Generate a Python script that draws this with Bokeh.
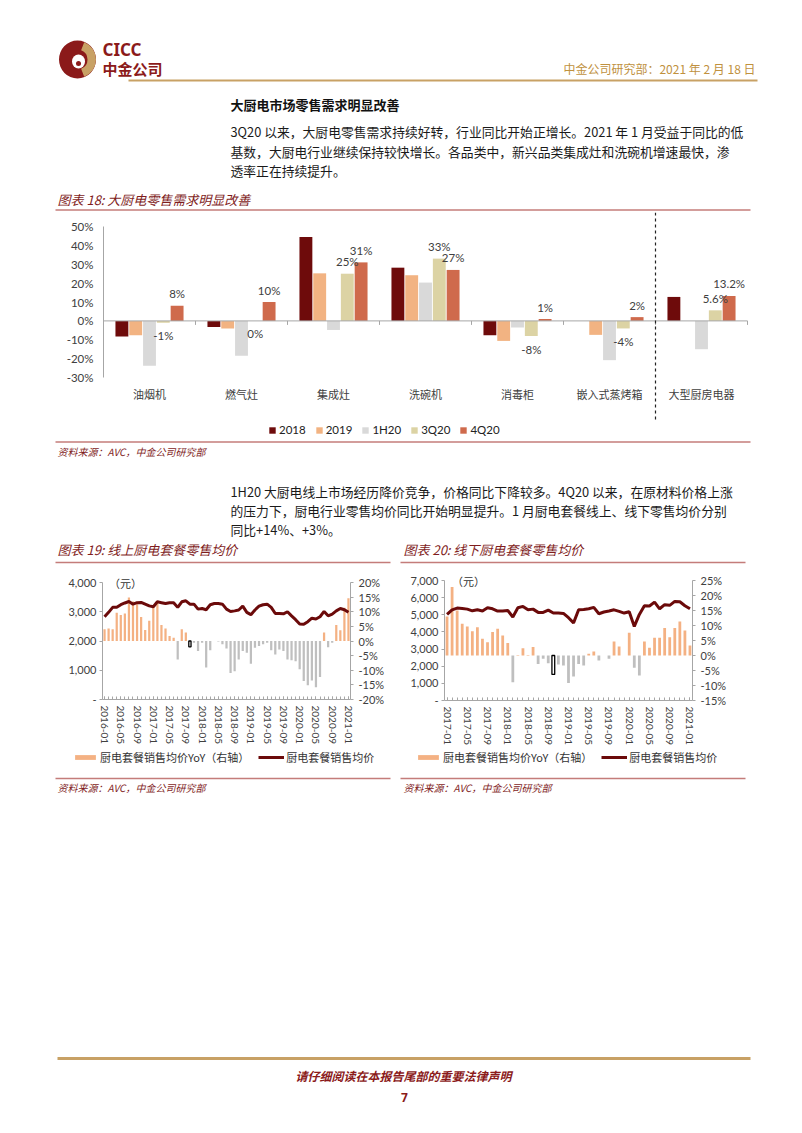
import numpy as np
import pandas as pd
from bokeh.plotting import figure
from bokeh.models import (Range1d, LinearAxis, FixedTicker, PrintfTickFormatter,
                          NumeralTickFormatter, Legend, LegendItem, ColumnDataSource, Label)
from bokeh.layouts import column, row
from bokeh.transform import dodge
from bokeh.core.properties import value
from bokeh.embed import file_html
from bokeh.resources import INLINE

NAN = float("nan")

# ---------------- data: chart 18 ----------------
cats18 = ["油烟机", "燃气灶", "集成灶", "洗碗机", "消毒柜", "嵌入式蒸烤箱", "大型厨房电器"]
series18 = ["2018", "2019", "1H20", "3Q20", "4Q20"]
v2018 = [-8.3, -3.2, 44.5, 28.2, -7.6, NAN, 12.7]
v2019 = [-7.6, -4.0, 25.2, 24.2, -10.6, -7.4, NAN]
v1h20 = [-23.8, -18.5, -4.8, 20.3, -3.5, -20.8, -15.0]
v3q20 = [-1.0, 0.0, 25.0, 33.0, -8.0, -4.0, 5.6]
v4q20 = [8.0, 10.0, 31.0, 27.0, 1.0, 2.0, 13.2]
lbl3q20 = ["-1%", "0%", "25%", "33%", "-8%", "-4%", "5.6%"]
lbl4q20 = ["8%", "10%", "31%", "27%", "1%", "2%", "13.2%"]
yticks18 = [-30, -20, -10, 0, 10, 20, 30, 40, 50]

# ---------------- data: chart 19 (online) ----------------
months19 = [str(m) for m in pd.period_range("2016-01", "2021-01", freq="M")]
online_price = [2830, 2980, 3150, 3150, 3240, 3300, 3350, 3260, 3310, 3320,
                3260, 3200, 3170, 3340, 3310, 3280, 3310, 3310, 3150, 3340,
                3375, 3260, 3260, 3090, 3110, 3070, 3240, 3280, 3280, 3260,
                3090, 3010, 3030, 3060, 3190, 2980, 2900, 3060, 3190, 3240,
                3260, 3150, 2940, 2940, 2930, 3000, 2860, 2730, 2580, 2570,
                2660, 2780, 2750, 2830, 3010, 2860, 2920, 3030, 3110, 3070, 2980]
online_yoy = [4.0, 4.3, 4.0, 9.7, 8.9, 9.4, 14.9, 13.5, 12.6, 8.2,
              3.8, 6.9, 11.4, 13.7, 5.5, 4.3, 1.7, 1.1, -6.3, 4.0,
              2.9, -2.0, -0.6, -3.4, -0.6, -9.1, -3.2, 0.0, -0.2, -1.1,
              -2.6, -10.9, -10.3, -6.3, -3.4, -4.0, -7.8, -2.3, -1.7, -1.1,
              -0.6, -3.2, -4.6, -2.9, -3.4, -6.3, -6.6, -6.9, -9.7, -13.7,
              -15.1, -13.5, -15.8, -12.3, 2.9, -2.1, -0.6, 5.5, 3.7, 11.4, 14.6]
online_box = "2017-10"
lticks19 = [0, 1000, 2000, 3000, 4000]
rticks19 = [-20, -15, -10, -5, 0, 5, 10, 15, 20]

# ---------------- data: chart 20 (offline) ----------------
months20 = [str(m) for m in pd.period_range("2017-01", "2021-01", freq="M")]
offline_price = [5020, 5290, 5390, 5370, 5330, 5230, 5290, 5220, 5410, 5350,
                 5220, 5220, 5250, 4870, 5410, 5490, 5290, 5330, 5140, 5140,
                 5270, 5100, 5100, 5080, 4830, 4530, 5290, 5310, 5350, 5430,
                 5060, 5160, 5220, 5290, 5200, 5100, 5180, 4320, 5020, 5530,
                 5510, 5740, 5350, 5590, 5550, 5780, 5760, 5530, 5350]
offline_yoy = [13.0, 22.8, 15.0, 10.6, 9.7, 8.1, 9.4, 5.6, 4.4, 7.8,
               8.9, 6.7, 4.2, -8.9, 0.2, 2.4, 0.2, 2.8, -2.8, -1.1,
               -2.6, -6.3, -3.0, -3.3, -9.2, -7.0, -2.8, -3.3, 0.6, 1.3,
               -1.7, 0.0, -1.1, 4.7, 3.0, 0.0, 7.6, -4.1, -6.7, 4.7,
               2.6, 5.9, 5.9, 9.2, 6.1, 9.2, 11.3, 8.3, 3.3]
offline_box = "2018-10"
lticks20 = [0, 1000, 2000, 3000, 4000, 5000, 6000, 7000]
rticks20 = [-15, -10, -5, 0, 5, 10, 15, 20, 25]

legend_yoy = "厨电套餐销售均价YoY（右轴）"
legend_price = "厨电套餐销售均价"

# ---------------- styles ----------------
CJK = "Noto Sans CJK SC"
NUM = "Lato, Noto Sans CJK SC"
DARKRED = "#7F1D1D"
RULE = "#C47C7A"
GOLD = "#C8A165"
AXIS = "#A6A6A6"
LABEL = "#404040"
COL18 = ["#6E0B0B", "#F2B382", "#D9D9D9", "#DCD3A4", "#CF6A4C"]
ORANGE = "#F4B183"
GRAY = "#BFBFBF"
LINE = "#6B0A0A"
PAGE_W = 800


def base(width, height, x_range, y_range):
    # every figure uses its whole area as frame; axes are placed with fixed_location
    p = figure(width=width, height=height, toolbar_location=None, output_backend="svg",
               x_range=x_range, y_range=y_range,
               outline_line_color=None, background_fill_color="white", border_fill_color="white",
               min_border_left=0, min_border_right=0, min_border_top=0, min_border_bottom=0)
    p.xgrid.visible = False
    p.ygrid.visible = False
    return p


def text_fig(top, height):
    p = base(PAGE_W, height, Range1d(0, PAGE_W), Range1d(top + height, top))
    p.xaxis.visible = False
    p.yaxis.visible = False
    return p


def put(p, x, y, s, size, color="#1a1a1a", font=CJK, align="left", style="normal"):
    p.text(x=[x], y=[y], text=[s], text_font=value(font), text_font_size=size,
           text_color=color, text_align=align, text_baseline="middle", text_font_style=style)


def hline(p, x0, x1, y, color, width):
    p.segment(x0=[x0], x1=[x1], y0=[y], y1=[y], line_color=color, line_width=width)


def style_axis(ax, standoff, size="11px", tick_out=3):
    ax.axis_line_color = AXIS
    ax.major_tick_out = tick_out
    ax.major_tick_in = 0
    ax.minor_tick_out = 0
    ax.minor_tick_in = 0
    ax.major_tick_line_color = AXIS
    ax.major_label_standoff = standoff
    ax.major_label_text_font = NUM
    ax.major_label_text_font_size = size
    ax.major_label_text_color = LABEL


# ================= Figure A : header, intro, chart 18 title =================
A_TOP, A_H = 0, 212
fa = text_fig(A_TOP, A_H)
fa.ellipse(x=[77], y=[59], width=[37], height=[38], fill_color="#8B1A1A", line_color=None)
fa.annular_wedge(x=[77], y=[59], inner_radius=[10], outer_radius=[18.5],
                 start_angle=[-1.2], end_angle=[1.2], fill_color="#C8A165", line_color=None)
fa.ellipse(x=[78], y=[61], width=[13], height=[14], fill_color="white", line_color=None)
fa.ellipse(x=[78], y=[63], width=[5], height=[5], fill_color="#8B1A1A", line_color=None)
put(fa, 102, 49, "CICC", "17px", "#8B1A1A", "Noto Sans", style="bold")
put(fa, 102, 68, "中金公司", "15px", "#8B1A1A", CJK, style="bold")
put(fa, 755, 68, "中金公司研究部：2021 年 2 月 18 日", "12px", "#C0913E", CJK, align="right")
hline(fa, 128, 757, 80, GOLD, 2)
put(fa, 230, 104, "大厨电市场零售需求明显改善", "13px", "#111111", CJK, style="bold")
put(fa, 230, 131, "3Q20 以来，大厨电零售需求持续好转，行业同比开始正增长。2021 年 1 月受益于同比的低", "12.8px")
put(fa, 230, 151, "基数，大厨电行业继续保持较快增长。各品类中，新兴品类集成灶和洗碗机增速最快，渗", "12.8px")
put(fa, 230, 170, "透率正在持续提升。", "12.8px")
put(fa, 57, 199, "图表 18: 大厨电零售需求明显改善", "13px", DARKRED, CJK, style="italic")
hline(fa, 55, 750, 209.5, RULE, 1.5)

# ================= Figure B : chart 18 =================
T18, B18 = 212, 440
F18_L, F18_R = 103, 747          # page x of category area
Z18 = 320.4                      # page y of 0 %
PPU18 = 1.8875                   # px per 1 %
n18 = len(cats18)
ppx18 = (F18_R - F18_L) / n18    # px per category
x_lo = -F18_L / ppx18
x_hi = n18 + (PAGE_W - F18_R) / ppx18
y_lo = -(B18 - Z18) / PPU18
y_hi = (Z18 - T18) / PPU18
p18 = base(PAGE_W, B18 - T18, Range1d(x_lo, x_hi), Range1d(y_lo, y_hi))

xc18 = [i + 0.5 for i in range(n18)]
y3 = [v + 12 / PPU18 if v > 0 else v - 13 / PPU18 for v in v3q20]
y4 = [v + 12 / PPU18 if v > 0 else v - 13 / PPU18 for v in v4q20]
src18 = ColumnDataSource(dict(x=xc18,
                              s0=np.array(v2018, dtype=float), s1=np.array(v2019, dtype=float),
                              s2=np.array(v1h20, dtype=float), s3=np.array(v3q20, dtype=float),
                              s4=np.array(v4q20, dtype=float),
                              l3=lbl3q20, l4=lbl4q20, y3=y3, y4=y4))
offs = [-0.3, -0.15, 0.0, 0.15, 0.3]
bars18 = []
for k, name in enumerate(series18):
    r = p18.vbar(x=dodge("x", offs[k]), top="s%d" % k, bottom=0,
                 width=0.14, fill_color=COL18[k], line_color=None, source=src18)
    bars18.append(r)
# zero line with category boundary ticks
p18.segment(x0=[0], x1=[n18], y0=[0], y1=[0], line_color=AXIS, line_width=1)
bnd = list(range(1, n18 + 1))
p18.segment(x0=bnd, x1=bnd, y0=[0] * n18, y1=[-4 / PPU18] * n18, line_color=AXIS, line_width=1)
# dashed divider before the last category
p18.segment(x0=[n18 - 1], x1=[n18 - 1], y0=[y_hi], y1=[(Z18 - 421) / PPU18],
            line_color="#222222", line_width=1.2, line_dash="3 3")
p18.text(x=dodge("x", 0.15), y="y3", text="l3", source=src18,
         text_font=value(NUM), text_font_size="11.5px", text_color=LABEL,
         text_align="center", text_baseline="middle")
p18.text(x=dodge("x", 0.3), y="y4", text="l4", source=src18,
         text_font=value(NUM), text_font_size="11.5px", text_color=LABEL,
         text_align="center", text_baseline="middle")

ya = p18.yaxis[0]
ya.fixed_location = 0
ya.ticker = FixedTicker(ticks=yticks18)
ya.formatter = PrintfTickFormatter(format="%d%%")
ya.bounds = (min(yticks18), max(yticks18))
style_axis(ya, 10, "11.5px", tick_out=0)

xa = p18.xaxis[0]
xa.fixed_location = (Z18 - 382) / PPU18
xa.ticker = FixedTicker(ticks=xc18)
xa.major_label_overrides = {x: c for x, c in zip(xc18, cats18)}
xa.axis_line_alpha = 0
xa.major_tick_in = 0
xa.major_tick_out = 0
xa.minor_tick_in = 0
xa.minor_tick_out = 0
xa.major_label_standoff = 3
xa.major_label_text_font = CJK
xa.major_label_text_font_size = "11px"
xa.major_label_text_color = LABEL

leg18 = Legend(items=[LegendItem(label=n, renderers=[r]) for n, r in zip(series18, bars18)],
               orientation="horizontal", location=(268, 4),
               glyph_width=8, glyph_height=8, label_height=12, label_standoff=3, spacing=9,
               padding=0, margin=0, background_fill_alpha=0, border_line_alpha=0,
               label_text_font=NUM, label_text_font_size="11.5px", label_text_color="#222222")
p18.add_layout(leg18)

# ================= Figure C : source 18, paragraph, titles 19/20 =================
C_TOP, C_H = 440, 128
fc = text_fig(C_TOP, C_H)
hline(fc, 55, 750, 441.5, RULE, 1.5)
put(fc, 57, 451, "资料来源：AVC，中金公司研究部", "10px", DARKRED, CJK, style="italic")
put(fc, 230, 491, "1H20 大厨电线上市场经历降价竞争，价格同比下降较多。4Q20 以来，在原材料价格上涨", "12.8px")
put(fc, 230, 510, "的压力下，厨电行业零售均价同比开始明显提升。1 月厨电套餐线上、线下零售均价分别", "12.8px")
put(fc, 230, 529, "同比+14%、+3%。", "12.8px")
put(fc, 57, 549, "图表 19: 线上厨电套餐零售均价", "13px", DARKRED, CJK, style="italic")
hline(fc, 55, 390, 562, RULE, 1.5)
put(fc, 403, 549, "图表 20: 线下厨电套餐零售均价", "13px", DARKRED, CJK, style="italic")
hline(fc, 400, 745, 562, RULE, 1.5)

# ================= Figures D/E : monthly charts =================
ROW_TOP, ROW_BOT = 568, 748
FRAME_W = 248


def month_chart(months, price, yoy, box_month, lticks, rticks,
                fig_x0, fig_w, frame_x0, top_y, zero_y, yuan_px):
    n = len(months)
    ppm = FRAME_W / n
    x0 = frame_x0 - fig_x0
    left_max = max(lticks)
    r_min, r_max = min(rticks), max(rticks)
    ppl = (zero_y - top_y) / left_max
    ppr = (zero_y - top_y) / (r_max - r_min)
    p = base(fig_w, ROW_BOT - ROW_TOP,
             Range1d(-x0 / ppm, n + (fig_w - x0 - FRAME_W) / ppm),
             Range1d(-(ROW_BOT - zero_y) / ppl, left_max + (top_y - ROW_TOP) / ppl))
    p.extra_y_ranges = {"pct": Range1d(r_min - (ROW_BOT - zero_y) / ppr,
                                       r_max + (top_y - ROW_TOP) / ppr)}

    xs = [i + 0.5 for i in range(n)]
    fc_, lc_, la_ = [], [], []
    for m, v in zip(months, yoy):
        if m == box_month:
            fc_.append("#FFFFFF"); lc_.append("#000000"); la_.append(1.0)
        else:
            c = ORANGE if v > 0 else GRAY
            fc_.append(c); lc_.append(c); la_.append(0.0)
    src = ColumnDataSource(dict(x=xs, m=months, price=price, yoy=yoy, fc=fc_, lc=lc_, la=la_))
    p.vbar(x="x", top="yoy", bottom=0, width=0.55, y_range_name="pct",
           fill_color="fc", line_color="lc", line_alpha="la", line_width=1.3, source=src)
    p.line(x="x", y="price", line_color=LINE, line_width=3, source=src)

    ya = p.yaxis[0]
    ya.fixed_location = 0
    ya.ticker = FixedTicker(ticks=lticks)
    ya.formatter = NumeralTickFormatter(format="0,0")
    ya.major_label_overrides = {0: "-"}
    ya.bounds = (0, left_max)
    style_axis(ya, 3)

    ra = LinearAxis(y_range_name="pct", ticker=FixedTicker(ticks=rticks),
                    formatter=PrintfTickFormatter(format="%d%%"), bounds=(r_min, r_max),
                    fixed_location=n)
    style_axis(ra, 5)
    p.add_layout(ra, "right")

    xa = p.xaxis[0]
    xa.fixed_location = 0
    xa.bounds = (0, n)
    lab_x = [xs[i] for i in range(0, n, 4)]
    xa.ticker = FixedTicker(ticks=lab_x, minor_ticks=xs)
    xa.major_label_overrides = {xs[i]: months[i] for i in range(0, n, 4)}
    xa.axis_line_color = AXIS
    xa.major_tick_in = 3
    xa.major_tick_out = 0
    xa.minor_tick_in = 3
    xa.minor_tick_out = 0
    xa.major_tick_line_color = AXIS
    xa.minor_tick_line_color = AXIS
    xa.major_label_orientation = "vertical"
    xa.major_label_standoff = 6
    xa.major_label_text_font = NUM
    xa.major_label_text_font_size = "10px"
    xa.major_label_text_color = LABEL

    p.add_layout(Label(x=(yuan_px - frame_x0) / ppm, y=left_max, text="（元）", text_font=CJK,
                       text_font_size="11px", text_color="#333333",
                       text_align="center", text_baseline="middle"))
    return p


p19 = month_chart(months19, online_price, online_yoy, online_box, lticks19, rticks19,
                  fig_x0=0, fig_w=396, frame_x0=102, top_y=582, zero_y=699, yuan_px=125)
p20 = month_chart(months20, offline_price, offline_yoy, offline_box, lticks20, rticks20,
                  fig_x0=396, fig_w=PAGE_W - 396, frame_x0=444, top_y=580, zero_y=700, yuan_px=468)

# ================= Figure F : legends 19/20, sources, footer =================
F_TOP, F_H = 748, 382
ff = text_fig(F_TOP, F_H)
# legend keys: renderers with a single undrawn (NaN) point, only used for the legend swatches
key_bar = ff.vbar(x=[NAN], top=[NAN], width=1, fill_color=ORANGE, line_color=None)
key_line = ff.line(x=[NAN, NAN], y=[NAN, NAN], line_color=LINE, line_width=3)
for lx in (72, 415):
    leg = Legend(items=[LegendItem(label=legend_yoy, renderers=[key_bar]),
                        LegendItem(label=legend_price, renderers=[key_line])],
                 orientation="horizontal", location=(lx, F_TOP + F_H - 765),
                 glyph_width=26, glyph_height=6, label_height=13, label_standoff=2, spacing=9,
                 padding=0, margin=0, background_fill_alpha=0, border_line_alpha=0,
                 label_text_font=CJK, label_text_font_size="11px", label_text_color="#333333")
    ff.add_layout(leg)
hline(ff, 55, 390, 778, RULE, 1.5)
hline(ff, 400, 745, 778, RULE, 1.5)
put(ff, 57, 787, "资料来源：AVC，中金公司研究部", "10px", DARKRED, CJK, style="italic")
put(ff, 403, 787, "资料来源：AVC，中金公司研究部", "10px", DARKRED, CJK, style="italic")
hline(ff, 57, 750, 1058, GOLD, 3)
put(ff, 403, 1075, "请仔细阅读在本报告尾部的重要法律声明", "12px", "#8B1A1A", CJK,
    align="center", style="bold italic")
put(ff, 404, 1097, "7", "12px", "#8B1A1A", "Noto Sans", align="center", style="bold")

layout = column(fa, p18, fc, row(p19, p20), ff)
open("out.html", "w", encoding="utf-8").write(file_html(layout, INLINE, title="chart"))
